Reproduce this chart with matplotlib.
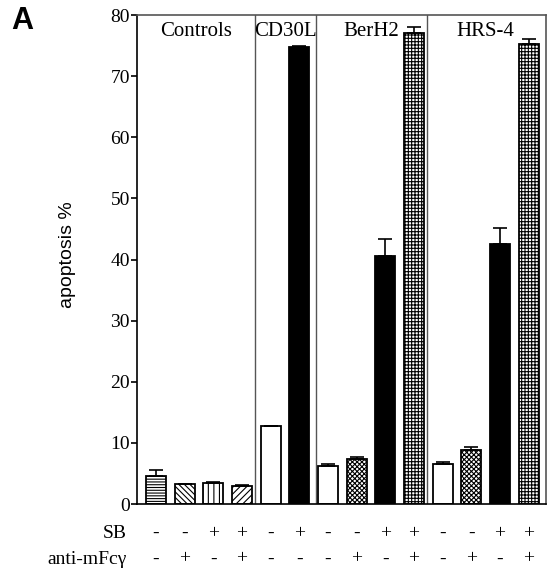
import matplotlib
matplotlib.use('Agg')
import matplotlib.pyplot as plt

# data
values = [4.6, 3.2, 3.5, 3.0, 12.7, 74.7, 6.3, 7.4, 40.5, 77.0, 6.5, 8.9, 42.5, 75.3]
errors = [0.9, 0.1, 0.1, 0.1, 0.1, 0.2, 0.3, 0.3, 2.8, 1.0, 0.3, 0.5, 2.6, 0.8]
sb = ['-', '-', '+', '+', '-', '+', '-', '-', '+', '+', '-', '-', '+', '+']
fc = ['-', '+', '-', '+', '-', '-', '-', '+', '-', '+', '-', '+', '-', '+']
groups = ['Controls', 'CD30L', 'BerH2', 'HRS-4']
hatches = ['------', '\\\\\\\\\\\\', '|||', '/////', '', '', '', 'xxxxxxx',
           '', '+++++', '', 'xxxxxxx', '', '+++++']
colors = ['white'] * 14
for i in (5, 8, 12):
    colors[i] = 'black'

plt.rcParams['font.family'] = ['Liberation Serif', 'DejaVu Serif']
plt.rcParams['hatch.linewidth'] = 0.8

fig = plt.figure(figsize=(5.48, 5.73), dpi=100)
ax = fig.add_axes([0.25, 0.1204, 0.7464, 0.8534])

x = list(range(14))
ax.bar(x, values, width=0.70, color=colors, edgecolor='black', linewidth=1.3,
       hatch=hatches, zorder=2)
ax.errorbar(x, values, yerr=[[0] * 14, errors], fmt='none', ecolor='black',
            elinewidth=1.2, capsize=5, capthick=1.2, zorder=3)

ax.set_xlim(-0.663, 13.61)
ax.set_ylim(0, 80)
ax.set_yticks(range(0, 81, 10))
ax.tick_params(axis='y', labelsize=14, length=4, width=1.2, pad=1)
ax.set_xticks([])
for s in ax.spines.values():
    s.set_linewidth(1.2)
ax.spines['top'].set_color('#555555')
ax.spines['right'].set_color('#555555')

# group dividers and names
for d in (3.46, 5.58, 9.46):
    ax.axvline(d, color='#555555', linewidth=1.0, zorder=1)
for name, cx in zip(groups, [1.4, 4.52, 7.52, 11.5]):
    ax.text(cx, 78.9, name, ha='center', va='top', fontsize=15)

fig.text(68 / 548, 1 - 255 / 573, 'apoptosis %', rotation=90, ha='center', va='center',
         fontsize=14, fontfamily=['Liberation Sans', 'DejaVu Sans'])

# condition rows under the axis
for i in x:
    ax.text(i, -4.8, sb[i], ha='center', va='center', fontsize=14, clip_on=False)
    ax.text(i, -9.0, fc[i], ha='center', va='center', fontsize=14, clip_on=False)
fig.text(0.232, 1 - 534 / 573, 'SB', ha='right', va='center', fontsize=14)
fig.text(0.232, 1 - 560 / 573, 'anti-mFc\u03b3', ha='right', va='center', fontsize=14)

fig.text(0.02, 1 - 21 / 573, 'A', ha='left', va='center', fontsize=22, fontweight='bold',
         fontfamily=['Liberation Sans', 'DejaVu Sans'])

fig.savefig('out.png', dpi=100)
